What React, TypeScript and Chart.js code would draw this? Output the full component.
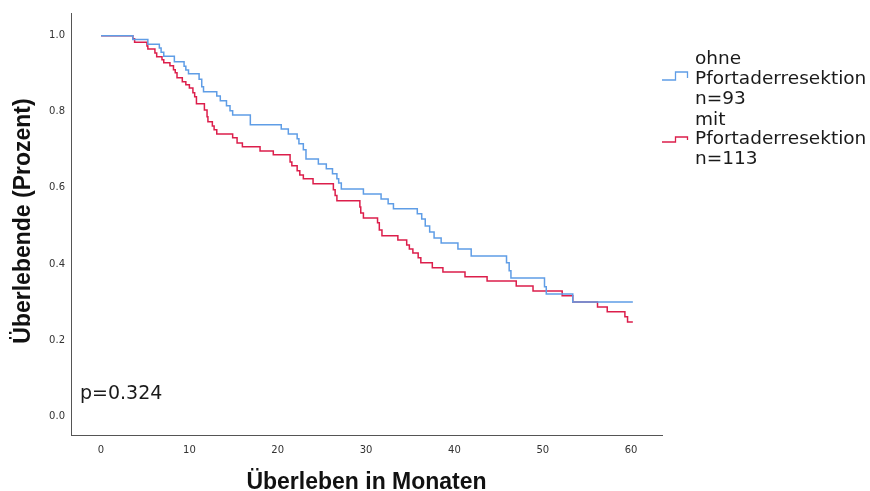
import { useEffect, useRef } from "react";
import { Chart, registerables } from "chart.js";

Chart.register(...registerables);

// Kaplan-Meier step data (time in months, survival after the step)
const ohneTimes = [0, 3.6, 5.3, 6.6, 6.8, 7.1, 8.3, 9.4, 9.6, 9.9, 11.1, 11.4, 11.6, 13.1, 13.5, 14.2, 14.6, 14.9, 16.9, 20.4, 21.2, 22.2, 22.4, 22.9, 23.2, 24.6, 25.5, 26.2, 26.7, 26.9, 27.2, 29.7, 31.7, 32.5, 33.1, 35.8, 36.3, 36.7, 37.2, 37.7, 38.5, 40.4, 41.9, 45.9, 46.2, 46.4, 50.2, 50.4, 53.4, 60.2];
const ohneSurv = [1.0, 0.99, 0.978, 0.968, 0.957, 0.946, 0.932, 0.92, 0.91, 0.9, 0.886, 0.866, 0.853, 0.842, 0.829, 0.816, 0.803, 0.792, 0.766, 0.755, 0.742, 0.729, 0.716, 0.7, 0.676, 0.663, 0.65, 0.637, 0.624, 0.613, 0.597, 0.584, 0.571, 0.558, 0.545, 0.532, 0.518, 0.5, 0.484, 0.468, 0.455, 0.439, 0.421, 0.403, 0.382, 0.363, 0.34, 0.321, 0.3, 0.3];

const mitTimes = [0, 3.6, 3.8, 5.2, 5.3, 6.1, 6.3, 6.9, 7.1, 7.8, 8.2, 8.4, 8.6, 9.2, 9.6, 10.0, 10.4, 10.6, 10.8, 11.7, 12.0, 12.1, 12.6, 12.8, 13.1, 14.9, 15.4, 16.0, 18.0, 19.5, 21.4, 21.6, 22.2, 22.5, 22.9, 24.0, 26.3, 26.5, 26.7, 29.3, 29.4, 29.7, 31.3, 31.5, 31.8, 33.6, 34.6, 34.9, 35.3, 35.9, 36.2, 37.5, 38.7, 41.2, 43.7, 47.0, 48.9, 52.2, 53.4, 56.2, 57.3, 59.3, 59.6, 60.2];
const mitSurv = [1.0, 0.992, 0.983, 0.973, 0.965, 0.955, 0.945, 0.937, 0.929, 0.921, 0.911, 0.903, 0.89, 0.879, 0.871, 0.863, 0.85, 0.84, 0.821, 0.805, 0.787, 0.774, 0.763, 0.753, 0.742, 0.732, 0.718, 0.708, 0.697, 0.687, 0.668, 0.658, 0.645, 0.634, 0.624, 0.611, 0.595, 0.58, 0.566, 0.55, 0.534, 0.521, 0.508, 0.489, 0.474, 0.463, 0.45, 0.439, 0.429, 0.416, 0.403, 0.39, 0.379, 0.366, 0.355, 0.342, 0.329, 0.316, 0.3, 0.287, 0.274, 0.261, 0.247, 0.247];

const xTicks = [0, 10, 20, 30, 40, 50, 60];
const yTicks = [0, 0.2, 0.4, 0.6, 0.8, 1.0];

const seriesNames = ["ohne Pfortaderresektion n=93", "mit Pfortaderresektion n=113"];
const legendLines = [
  ["ohne", "Pfortaderresektion", "n=93"],
  ["mit", "Pfortaderresektion", "n=113"],
];
const seriesColors = ["#5f9de6", "#dc1e4b"];
const pValueText = "p=0.324";
const xTitle = "Überleben in Monaten";
const yTitle = "Überlebende (Prozent)";

const overlayPlugin = {
  id: "overlay",
  afterDraw(chart: any) {
    const { ctx, chartArea } = chart;
    ctx.save();
    ctx.fillStyle = "#111";
    // axis titles
    ctx.font = 'bold 23px "Liberation Sans", Arial, sans-serif';
    ctx.textAlign = "center";
    ctx.textBaseline = "alphabetic";
    ctx.fillText(xTitle, (chartArea.left + chartArea.right) / 2, 489);
    ctx.save();
    ctx.translate(30, (chartArea.top + chartArea.bottom) / 2 - 3);
    ctx.rotate(-Math.PI / 2);
    ctx.fillText(yTitle, 0, 0);
    ctx.restore();

    // p-value
    ctx.font = '19px "DejaVu Sans", sans-serif';
    ctx.textAlign = "left";
    ctx.fillStyle = "#1a1a1a";
    ctx.fillText(pValueText, 80, 399);

    // legend
    ctx.font = '18.5px "DejaVu Sans", sans-serif';
    const groups = [
      { baselines: [64, 84, 104], icon: [80, 72] },
      { baselines: [124.5, 144, 163.5], icon: [142, 137] },
    ];
    groups.forEach((g, i) => {
      ctx.fillStyle = "#1a1a1a";
      legendLines[i].forEach((t, j) => ctx.fillText(t, 695, g.baselines[j]));
      ctx.strokeStyle = seriesColors[i];
      ctx.lineWidth = 1.3;
      ctx.beginPath();
      const [lo, hi] = g.icon;
      ctx.moveTo(662, lo);
      ctx.lineTo(675.5, lo);
      ctx.lineTo(675.5, hi);
      ctx.lineTo(687.5, hi);
      ctx.lineTo(687.5, lo - 2);
      ctx.stroke();
    });
    ctx.restore();
  },
};

export default function App() {
  const ref = useRef<HTMLCanvasElement | null>(null);

  useEffect(() => {
    if (!ref.current) return;
    const mk = (ts: number[], ss: number[]) => ts.map((t, i) => ({ x: t, y: ss[i] }));
    const chart = new Chart(ref.current, {
      type: "line",
      data: {
        datasets: [
          {
            label: seriesNames[0],
            data: mk(ohneTimes, ohneSurv),
            borderColor: seriesColors[0],
            borderWidth: 1.5,
            stepped: true,
            pointRadius: 0,
            fill: false,
          },
          {
            label: seriesNames[1],
            data: mk(mitTimes, mitSurv),
            borderColor: seriesColors[1],
            borderWidth: 1.5,
            stepped: true,
            pointRadius: 0,
            fill: false,
          },
        ],
      },
      options: {
        responsive: false,
        animation: false,
        layout: { padding: { top: 13, right: 208, left: 0, bottom: 0 } },
        plugins: {
          legend: { display: false },
          tooltip: { enabled: false },
        },
        scales: {
          x: {
            type: "linear",
            min: -3.4,
            max: 63.5,
            afterBuildTicks: (s: any) => {
              s.ticks = xTicks.map((v) => ({ value: v }));
            },
            afterFit: (s: any) => {
              s.height = 56;
            },
            grid: { display: false, drawTicks: false },
            border: { display: true, color: "#555", width: 1 },
            ticks: {
              autoSkip: false,
              maxRotation: 0,
              padding: 9,
              color: "#333",
              font: { family: "DejaVu Sans", size: 10 },
              callback: (v: any) => String(v),
            },
          },
          y: {
            type: "linear",
            min: -0.05,
            max: 1.06,
            afterBuildTicks: (s: any) => {
              s.ticks = yTicks.map((v) => ({ value: v }));
            },
            afterFit: (s: any) => {
              s.width = 71;
            },
            grid: { display: false, drawTicks: false },
            border: { display: true, color: "#555", width: 1 },
            ticks: {
              autoSkip: false,
              padding: 6,
              color: "#333",
              font: { family: "DejaVu Sans", size: 10 },
              callback: (v: any) => Number(v).toFixed(1),
            },
          },
        },
      },
      plugins: [overlayPlugin],
    });
    return () => chart.destroy();
  }, []);

  return (
    <div style={{ position: "absolute", left: 0, top: 0, width: 870, height: 491, background: "#fff" }}>
      <canvas ref={ref} width={870} height={491} style={{ display: "block" }} />
    </div>
  );
}
